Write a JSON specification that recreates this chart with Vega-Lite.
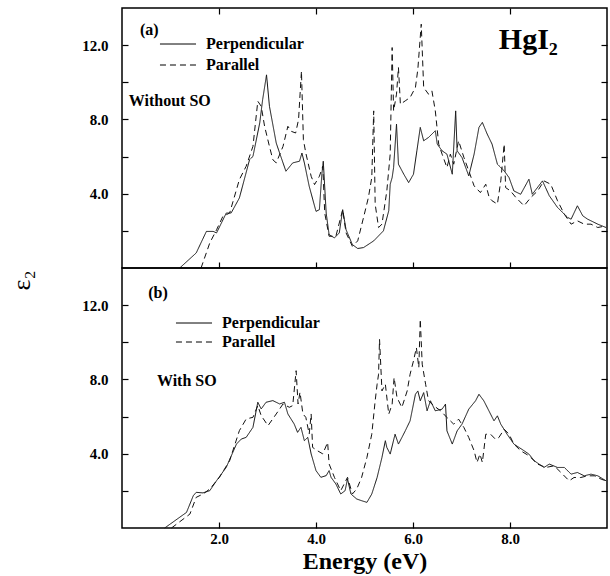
{
  "$schema": "https://vega.github.io/schema/vega-lite/v6.json",
  "padding": {"left": 7, "top": 6, "right": 4, "bottom": 0},
  "background": "white",
  "datasets": {
    "a": [
      {"E":1.19,"v":0,"s":"Perpendicular"},{"E":1.53,"v":0.81,"s":"Perpendicular"},{"E":1.74,"v":1.97,"s":"Perpendicular"},{"E":1.88,"v":1.97,"s":"Perpendicular"},{"E":1.95,"v":1.89,"s":"Perpendicular"},{"E":2.15,"v":2.96,"s":"Perpendicular"},{"E":2.25,"v":2.96,"s":"Perpendicular"},{"E":2.42,"v":3.77,"s":"Perpendicular"},{"E":2.63,"v":5.83,"s":"Perpendicular"},{"E":2.7,"v":6.01,"s":"Perpendicular"},{"E":2.84,"v":7.81,"s":"Perpendicular"},{"E":2.9,"v":9.07,"s":"Perpendicular"},{"E":2.98,"v":10.4,"s":"Perpendicular"},{"E":3.04,"v":8.71,"s":"Perpendicular"},{"E":3.18,"v":6.73,"s":"Perpendicular"},{"E":3.25,"v":6.19,"s":"Perpendicular"},{"E":3.38,"v":5.21,"s":"Perpendicular"},{"E":3.52,"v":5.66,"s":"Perpendicular"},{"E":3.66,"v":5.75,"s":"Perpendicular"},{"E":3.71,"v":6.19,"s":"Perpendicular"},{"E":3.76,"v":5.66,"s":"Perpendicular"},{"E":3.86,"v":4.4,"s":"Perpendicular"},{"E":4.0,"v":3.05,"s":"Perpendicular"},{"E":4.07,"v":3.14,"s":"Perpendicular"},{"E":4.12,"v":5.03,"s":"Perpendicular"},{"E":4.15,"v":5.75,"s":"Perpendicular"},{"E":4.21,"v":2.96,"s":"Perpendicular"},{"E":4.27,"v":1.8,"s":"Perpendicular"},{"E":4.38,"v":1.62,"s":"Perpendicular"},{"E":4.48,"v":1.89,"s":"Perpendicular"},{"E":4.55,"v":3.14,"s":"Perpendicular"},{"E":4.62,"v":2.06,"s":"Perpendicular"},{"E":4.75,"v":1.26,"s":"Perpendicular"},{"E":4.86,"v":1.05,"s":"Perpendicular"},{"E":4.98,"v":1.1,"s":"Perpendicular"},{"E":5.19,"v":1.46,"s":"Perpendicular"},{"E":5.39,"v":2.0,"s":"Perpendicular"},{"E":5.5,"v":3.08,"s":"Perpendicular"},{"E":5.53,"v":4.51,"s":"Perpendicular"},{"E":5.57,"v":4.87,"s":"Perpendicular"},{"E":5.6,"v":5.41,"s":"Perpendicular"},{"E":5.66,"v":7.75,"s":"Perpendicular"},{"E":5.7,"v":5.59,"s":"Perpendicular"},{"E":5.81,"v":5.05,"s":"Perpendicular"},{"E":5.91,"v":4.6,"s":"Perpendicular"},{"E":6.01,"v":5.05,"s":"Perpendicular"},{"E":6.08,"v":6.31,"s":"Perpendicular"},{"E":6.15,"v":7.57,"s":"Perpendicular"},{"E":6.22,"v":6.85,"s":"Perpendicular"},{"E":6.32,"v":7.03,"s":"Perpendicular"},{"E":6.46,"v":7.39,"s":"Perpendicular"},{"E":6.5,"v":6.67,"s":"Perpendicular"},{"E":6.6,"v":6.31,"s":"Perpendicular"},{"E":6.7,"v":6.13,"s":"Perpendicular"},{"E":6.81,"v":5.05,"s":"Perpendicular"},{"E":6.88,"v":8.46,"s":"Perpendicular"},{"E":6.91,"v":6.31,"s":"Perpendicular"},{"E":7.01,"v":5.95,"s":"Perpendicular"},{"E":7.15,"v":4.96,"s":"Perpendicular"},{"E":7.26,"v":6.13,"s":"Perpendicular"},{"E":7.36,"v":7.57,"s":"Perpendicular"},{"E":7.43,"v":7.84,"s":"Perpendicular"},{"E":7.53,"v":7.21,"s":"Perpendicular"},{"E":7.63,"v":6.67,"s":"Perpendicular"},{"E":7.74,"v":5.59,"s":"Perpendicular"},{"E":7.88,"v":5.23,"s":"Perpendicular"},{"E":7.98,"v":4.87,"s":"Perpendicular"},{"E":8.08,"v":4.15,"s":"Perpendicular"},{"E":8.22,"v":3.97,"s":"Perpendicular"},{"E":8.39,"v":4.78,"s":"Perpendicular"},{"E":8.46,"v":3.97,"s":"Perpendicular"},{"E":8.67,"v":4.69,"s":"Perpendicular"},{"E":8.81,"v":3.89,"s":"Perpendicular"},{"E":8.98,"v":3.26,"s":"Perpendicular"},{"E":9.19,"v":2.72,"s":"Perpendicular"},{"E":9.26,"v":2.63,"s":"Perpendicular"},{"E":9.39,"v":3.35,"s":"Perpendicular"},{"E":9.5,"v":2.81,"s":"Perpendicular"},{"E":9.6,"v":2.63,"s":"Perpendicular"},{"E":9.81,"v":2.36,"s":"Perpendicular"},{"E":9.98,"v":2.18,"s":"Perpendicular"},
      {"E":1.63,"v":0,"s":"Parallel"},{"E":1.81,"v":1.35,"s":"Parallel"},{"E":1.95,"v":2.06,"s":"Parallel"},{"E":2.08,"v":2.78,"s":"Parallel"},{"E":2.22,"v":2.96,"s":"Parallel"},{"E":2.42,"v":4.76,"s":"Parallel"},{"E":2.56,"v":5.48,"s":"Parallel"},{"E":2.7,"v":6.55,"s":"Parallel"},{"E":2.8,"v":8.98,"s":"Parallel"},{"E":2.87,"v":8.71,"s":"Parallel"},{"E":2.94,"v":7.63,"s":"Parallel"},{"E":3.04,"v":6.55,"s":"Parallel"},{"E":3.11,"v":5.83,"s":"Parallel"},{"E":3.18,"v":5.66,"s":"Parallel"},{"E":3.32,"v":6.55,"s":"Parallel"},{"E":3.42,"v":7.63,"s":"Parallel"},{"E":3.49,"v":7.36,"s":"Parallel"},{"E":3.58,"v":7.27,"s":"Parallel"},{"E":3.64,"v":7.99,"s":"Parallel"},{"E":3.7,"v":10.6,"s":"Parallel"},{"E":3.74,"v":6.91,"s":"Parallel"},{"E":3.79,"v":6.19,"s":"Parallel"},{"E":3.9,"v":4.94,"s":"Parallel"},{"E":3.97,"v":4.49,"s":"Parallel"},{"E":4.07,"v":4.94,"s":"Parallel"},{"E":4.14,"v":5.48,"s":"Parallel"},{"E":4.18,"v":2.96,"s":"Parallel"},{"E":4.27,"v":1.71,"s":"Parallel"},{"E":4.41,"v":1.71,"s":"Parallel"},{"E":4.55,"v":3.14,"s":"Parallel"},{"E":4.62,"v":1.89,"s":"Parallel"},{"E":4.75,"v":1.17,"s":"Parallel"},{"E":4.86,"v":1.46,"s":"Parallel"},{"E":4.98,"v":2.72,"s":"Parallel"},{"E":5.08,"v":3.79,"s":"Parallel"},{"E":5.15,"v":4.87,"s":"Parallel"},{"E":5.19,"v":8.46,"s":"Parallel"},{"E":5.22,"v":3.44,"s":"Parallel"},{"E":5.29,"v":2.18,"s":"Parallel"},{"E":5.36,"v":2.36,"s":"Parallel"},{"E":5.46,"v":4.15,"s":"Parallel"},{"E":5.53,"v":6.13,"s":"Parallel"},{"E":5.57,"v":11.87,"s":"Parallel"},{"E":5.6,"v":8.46,"s":"Parallel"},{"E":5.66,"v":9.36,"s":"Parallel"},{"E":5.7,"v":10.8,"s":"Parallel"},{"E":5.74,"v":8.82,"s":"Parallel"},{"E":5.84,"v":9.0,"s":"Parallel"},{"E":5.94,"v":9.18,"s":"Parallel"},{"E":6.05,"v":9.72,"s":"Parallel"},{"E":6.1,"v":10.71,"s":"Parallel"},{"E":6.17,"v":13.13,"s":"Parallel"},{"E":6.22,"v":9.72,"s":"Parallel"},{"E":6.32,"v":9.36,"s":"Parallel"},{"E":6.39,"v":9.54,"s":"Parallel"},{"E":6.46,"v":8.46,"s":"Parallel"},{"E":6.53,"v":6.67,"s":"Parallel"},{"E":6.6,"v":6.13,"s":"Parallel"},{"E":6.7,"v":5.41,"s":"Parallel"},{"E":6.77,"v":6.13,"s":"Parallel"},{"E":6.84,"v":5.59,"s":"Parallel"},{"E":6.94,"v":6.85,"s":"Parallel"},{"E":7.05,"v":5.95,"s":"Parallel"},{"E":7.15,"v":5.23,"s":"Parallel"},{"E":7.26,"v":4.42,"s":"Parallel"},{"E":7.39,"v":4.06,"s":"Parallel"},{"E":7.5,"v":4.51,"s":"Parallel"},{"E":7.57,"v":3.8,"s":"Parallel"},{"E":7.63,"v":3.62,"s":"Parallel"},{"E":7.74,"v":3.44,"s":"Parallel"},{"E":7.81,"v":4.69,"s":"Parallel"},{"E":7.88,"v":6.67,"s":"Parallel"},{"E":7.91,"v":4.33,"s":"Parallel"},{"E":8.01,"v":4.15,"s":"Parallel"},{"E":8.12,"v":3.8,"s":"Parallel"},{"E":8.29,"v":3.35,"s":"Parallel"},{"E":8.43,"v":3.8,"s":"Parallel"},{"E":8.57,"v":4.15,"s":"Parallel"},{"E":8.7,"v":4.69,"s":"Parallel"},{"E":8.84,"v":4.51,"s":"Parallel"},{"E":8.98,"v":3.62,"s":"Parallel"},{"E":9.12,"v":2.9,"s":"Parallel"},{"E":9.26,"v":2.36,"s":"Parallel"},{"E":9.39,"v":2.54,"s":"Parallel"},{"E":9.53,"v":2.36,"s":"Parallel"},{"E":9.67,"v":2.36,"s":"Parallel"},{"E":9.81,"v":2.18,"s":"Parallel"},{"E":9.98,"v":2.27,"s":"Parallel"}
    ],
    "b": [
      {"E":0.88,"v":0,"s":"Perpendicular"},{"E":1.33,"v":0.84,"s":"Perpendicular"},{"E":1.47,"v":1.74,"s":"Perpendicular"},{"E":1.53,"v":1.92,"s":"Perpendicular"},{"E":1.67,"v":1.89,"s":"Perpendicular"},{"E":1.81,"v":2.01,"s":"Perpendicular"},{"E":1.95,"v":2.55,"s":"Perpendicular"},{"E":2.15,"v":3.27,"s":"Perpendicular"},{"E":2.36,"v":4.52,"s":"Perpendicular"},{"E":2.46,"v":4.79,"s":"Perpendicular"},{"E":2.56,"v":4.88,"s":"Perpendicular"},{"E":2.7,"v":5.42,"s":"Perpendicular"},{"E":2.8,"v":6.77,"s":"Perpendicular"},{"E":2.87,"v":6.41,"s":"Perpendicular"},{"E":2.97,"v":6.77,"s":"Perpendicular"},{"E":3.11,"v":6.86,"s":"Perpendicular"},{"E":3.25,"v":6.68,"s":"Perpendicular"},{"E":3.35,"v":6.77,"s":"Perpendicular"},{"E":3.42,"v":6.14,"s":"Perpendicular"},{"E":3.55,"v":5.6,"s":"Perpendicular"},{"E":3.62,"v":5.15,"s":"Perpendicular"},{"E":3.69,"v":5.42,"s":"Perpendicular"},{"E":3.76,"v":4.7,"s":"Perpendicular"},{"E":3.83,"v":4.88,"s":"Perpendicular"},{"E":3.9,"v":3.99,"s":"Perpendicular"},{"E":4.0,"v":3.09,"s":"Perpendicular"},{"E":4.1,"v":2.73,"s":"Perpendicular"},{"E":4.21,"v":2.82,"s":"Perpendicular"},{"E":4.27,"v":3.09,"s":"Perpendicular"},{"E":4.31,"v":2.73,"s":"Perpendicular"},{"E":4.41,"v":2.37,"s":"Perpendicular"},{"E":4.51,"v":1.83,"s":"Perpendicular"},{"E":4.6,"v":2.01,"s":"Perpendicular"},{"E":4.65,"v":2.64,"s":"Perpendicular"},{"E":4.72,"v":1.83,"s":"Perpendicular"},{"E":4.84,"v":1.56,"s":"Perpendicular"},{"E":4.94,"v":1.47,"s":"Perpendicular"},{"E":5.05,"v":1.38,"s":"Perpendicular"},{"E":5.15,"v":1.83,"s":"Perpendicular"},{"E":5.26,"v":2.72,"s":"Perpendicular"},{"E":5.36,"v":3.8,"s":"Perpendicular"},{"E":5.43,"v":4.7,"s":"Perpendicular"},{"E":5.46,"v":4.34,"s":"Perpendicular"},{"E":5.53,"v":3.98,"s":"Perpendicular"},{"E":5.63,"v":5.05,"s":"Perpendicular"},{"E":5.7,"v":4.52,"s":"Perpendicular"},{"E":5.77,"v":4.87,"s":"Perpendicular"},{"E":5.84,"v":5.23,"s":"Perpendicular"},{"E":5.94,"v":5.77,"s":"Perpendicular"},{"E":6.05,"v":7.2,"s":"Perpendicular"},{"E":6.1,"v":7.38,"s":"Perpendicular"},{"E":6.15,"v":6.85,"s":"Perpendicular"},{"E":6.22,"v":7.29,"s":"Perpendicular"},{"E":6.29,"v":6.31,"s":"Perpendicular"},{"E":6.36,"v":6.85,"s":"Perpendicular"},{"E":6.46,"v":6.31,"s":"Perpendicular"},{"E":6.6,"v":6.4,"s":"Perpendicular"},{"E":6.67,"v":6.67,"s":"Perpendicular"},{"E":6.7,"v":5.23,"s":"Perpendicular"},{"E":6.81,"v":4.52,"s":"Perpendicular"},{"E":6.91,"v":5.23,"s":"Perpendicular"},{"E":7.01,"v":5.59,"s":"Perpendicular"},{"E":7.15,"v":6.4,"s":"Perpendicular"},{"E":7.29,"v":6.85,"s":"Perpendicular"},{"E":7.36,"v":7.2,"s":"Perpendicular"},{"E":7.46,"v":6.85,"s":"Perpendicular"},{"E":7.6,"v":6.13,"s":"Perpendicular"},{"E":7.67,"v":5.77,"s":"Perpendicular"},{"E":7.74,"v":6.04,"s":"Perpendicular"},{"E":7.81,"v":5.59,"s":"Perpendicular"},{"E":7.94,"v":5.05,"s":"Perpendicular"},{"E":8.08,"v":4.52,"s":"Perpendicular"},{"E":8.29,"v":4.16,"s":"Perpendicular"},{"E":8.39,"v":3.98,"s":"Perpendicular"},{"E":8.5,"v":3.62,"s":"Perpendicular"},{"E":8.7,"v":3.26,"s":"Perpendicular"},{"E":8.81,"v":3.44,"s":"Perpendicular"},{"E":8.98,"v":3.26,"s":"Perpendicular"},{"E":9.12,"v":3.26,"s":"Perpendicular"},{"E":9.26,"v":2.9,"s":"Perpendicular"},{"E":9.39,"v":2.99,"s":"Perpendicular"},{"E":9.53,"v":2.81,"s":"Perpendicular"},{"E":9.67,"v":2.9,"s":"Perpendicular"},{"E":9.81,"v":2.81,"s":"Perpendicular"},{"E":9.98,"v":2.54,"s":"Perpendicular"},
      {"E":1.02,"v":0,"s":"Parallel"},{"E":1.4,"v":0.75,"s":"Parallel"},{"E":1.53,"v":1.65,"s":"Parallel"},{"E":1.67,"v":1.83,"s":"Parallel"},{"E":1.81,"v":2.1,"s":"Parallel"},{"E":2.01,"v":2.73,"s":"Parallel"},{"E":2.22,"v":3.63,"s":"Parallel"},{"E":2.42,"v":5.24,"s":"Parallel"},{"E":2.56,"v":5.87,"s":"Parallel"},{"E":2.7,"v":5.96,"s":"Parallel"},{"E":2.8,"v":6.59,"s":"Parallel"},{"E":2.87,"v":6.05,"s":"Parallel"},{"E":3.01,"v":5.51,"s":"Parallel"},{"E":3.18,"v":6.14,"s":"Parallel"},{"E":3.32,"v":6.68,"s":"Parallel"},{"E":3.45,"v":6.5,"s":"Parallel"},{"E":3.52,"v":6.59,"s":"Parallel"},{"E":3.59,"v":8.47,"s":"Parallel"},{"E":3.63,"v":6.68,"s":"Parallel"},{"E":3.67,"v":7.31,"s":"Parallel"},{"E":3.73,"v":6.14,"s":"Parallel"},{"E":3.79,"v":5.96,"s":"Parallel"},{"E":3.86,"v":5.06,"s":"Parallel"},{"E":3.9,"v":6.14,"s":"Parallel"},{"E":3.93,"v":4.34,"s":"Parallel"},{"E":4.03,"v":4.16,"s":"Parallel"},{"E":4.14,"v":3.99,"s":"Parallel"},{"E":4.24,"v":4.61,"s":"Parallel"},{"E":4.27,"v":3.45,"s":"Parallel"},{"E":4.38,"v":2.73,"s":"Parallel"},{"E":4.51,"v":2.01,"s":"Parallel"},{"E":4.65,"v":2.73,"s":"Parallel"},{"E":4.75,"v":1.83,"s":"Parallel"},{"E":4.84,"v":2.1,"s":"Parallel"},{"E":4.94,"v":2.72,"s":"Parallel"},{"E":5.05,"v":3.8,"s":"Parallel"},{"E":5.15,"v":5.05,"s":"Parallel"},{"E":5.22,"v":6.85,"s":"Parallel"},{"E":5.26,"v":7.74,"s":"Parallel"},{"E":5.29,"v":8.28,"s":"Parallel"},{"E":5.31,"v":10.16,"s":"Parallel"},{"E":5.36,"v":7.38,"s":"Parallel"},{"E":5.43,"v":7.74,"s":"Parallel"},{"E":5.5,"v":6.13,"s":"Parallel"},{"E":5.57,"v":6.67,"s":"Parallel"},{"E":5.61,"v":8.1,"s":"Parallel"},{"E":5.67,"v":7.03,"s":"Parallel"},{"E":5.77,"v":6.49,"s":"Parallel"},{"E":5.88,"v":7.38,"s":"Parallel"},{"E":5.94,"v":8.28,"s":"Parallel"},{"E":6.01,"v":9.0,"s":"Parallel"},{"E":6.07,"v":9.71,"s":"Parallel"},{"E":6.12,"v":8.64,"s":"Parallel"},{"E":6.15,"v":11.24,"s":"Parallel"},{"E":6.19,"v":8.82,"s":"Parallel"},{"E":6.26,"v":7.74,"s":"Parallel"},{"E":6.32,"v":6.85,"s":"Parallel"},{"E":6.43,"v":6.58,"s":"Parallel"},{"E":6.57,"v":6.31,"s":"Parallel"},{"E":6.7,"v":5.95,"s":"Parallel"},{"E":6.84,"v":5.59,"s":"Parallel"},{"E":6.94,"v":5.86,"s":"Parallel"},{"E":7.05,"v":5.41,"s":"Parallel"},{"E":7.15,"v":4.87,"s":"Parallel"},{"E":7.26,"v":4.16,"s":"Parallel"},{"E":7.32,"v":3.53,"s":"Parallel"},{"E":7.38,"v":3.98,"s":"Parallel"},{"E":7.43,"v":3.53,"s":"Parallel"},{"E":7.5,"v":5.05,"s":"Parallel"},{"E":7.6,"v":5.05,"s":"Parallel"},{"E":7.7,"v":4.78,"s":"Parallel"},{"E":7.77,"v":4.87,"s":"Parallel"},{"E":7.88,"v":5.32,"s":"Parallel"},{"E":7.98,"v":5.05,"s":"Parallel"},{"E":8.08,"v":4.52,"s":"Parallel"},{"E":8.22,"v":4.16,"s":"Parallel"},{"E":8.39,"v":3.89,"s":"Parallel"},{"E":8.57,"v":3.44,"s":"Parallel"},{"E":8.74,"v":3.26,"s":"Parallel"},{"E":8.91,"v":3.35,"s":"Parallel"},{"E":9.05,"v":2.99,"s":"Parallel"},{"E":9.22,"v":2.54,"s":"Parallel"},{"E":9.32,"v":2.72,"s":"Parallel"},{"E":9.46,"v":2.72,"s":"Parallel"},{"E":9.6,"v":2.81,"s":"Parallel"},{"E":9.74,"v":2.81,"s":"Parallel"},{"E":9.88,"v":2.63,"s":"Parallel"},{"E":9.98,"v":2.54,"s":"Parallel"}
    ],
    "aText": [{"x":0.37,"y":12.8,"t":"(a)"},{"x":0.14,"y":9.01,"t":"Without SO"}],
    "aTitle": [{"x":7.77,"y":11.81,"t":"HgI₂"}],
    "bText": [{"x":0.54,"y":12.68,"t":"(b)"},{"x":0.72,"y":7.92,"t":"With SO"}]
  },
  "vconcat": [
    {
      "width": 485,
      "height": 260,
      "layer": [
        {
          "layer": [
            {
              "data": {"name": "a"},
              "mark": {"type": "line", "stroke": "#111", "strokeWidth": 1},
              "encoding": {
                "x": {"field": "E", "type": "quantitative", "scale": {"domain": [0, 10], "nice": false},
                      "axis": {"orient": "bottom", "values": [2, 4, 6, 8], "labels": false, "title": null}},
                "y": {"field": "v", "type": "quantitative", "scale": {"domain": [0, 14], "nice": false},
                      "axis": {"orient": "left", "values": [2, 4, 6, 8, 10, 12], "labelPadding": 20, "labelExpr": "datum.value % 4 === 0 ? format(datum.value, '.1f') : ''", "title": null}},
                "strokeDash": {"field": "s", "type": "nominal",
                      "scale": {"domain": ["Perpendicular", "Parallel"], "range": [[1, 0], [6, 4]]},
                      "legend": {"title": null, "orient": "none", "legendX": 37, "legendY": 28, "clipHeight": 16, "rowPadding": 5}}
              }
            },
            {
              "data": {"name": "aTitle"},
              "mark": {"type": "text", "font": "Liberation Serif", "fontWeight": "bold", "fontSize": 30, "align": "left", "baseline": "alphabetic", "color": "black"},
              "encoding": {
                "x": {"field": "x", "type": "quantitative"},
                "y": {"field": "y", "type": "quantitative"},
                "text": {"field": "t"}
              }
            }
          ]
        },
        {
          "data": {"name": "aText"},
          "mark": {"type": "text", "font": "Liberation Serif", "fontWeight": "bold", "fontSize": 16, "align": "left", "baseline": "middle", "color": "black"},
          "encoding": {
            "x": {"field": "x", "type": "quantitative", "scale": {"domain": [0, 10], "nice": false},
                  "axis": {"orient": "top", "values": [2, 4, 6, 8], "labels": false, "title": null}},
            "y": {"field": "y", "type": "quantitative", "scale": {"domain": [0, 14], "nice": false},
                  "axis": {"orient": "right", "values": [2, 4, 6, 8, 10, 12], "labels": false, "title": null}},
            "text": {"field": "t"}
          }
        }
      ],
      "resolve": {"scale": {"x": "independent", "y": "independent"}}
    },
    {
      "width": 485,
      "height": 260,
      "layer": [
        {
          "data": {"name": "b"},
          "mark": {"type": "line", "stroke": "#111", "strokeWidth": 1},
          "encoding": {
            "x": {"field": "E", "type": "quantitative", "scale": {"domain": [0, 10], "nice": false},
                  "axis": {"orient": "bottom", "values": [2, 4, 6, 8], "format": ".1f", "labelPadding": 9, "title": "Energy (eV)", "titleFontSize": 24, "titlePadding": 3}},
            "y": {"field": "v", "type": "quantitative", "scale": {"domain": [0, 14], "nice": false},
                  "axis": {"orient": "left", "values": [2, 4, 6, 8, 10, 12], "labelPadding": 20, "labelExpr": "datum.value % 4 === 0 ? format(datum.value, '.1f') : ''",
                           "title": "ε₂", "titleX": -101, "titleY": 12, "titleAngle": -90, "titleAlign": "center", "titleBaseline": "middle", "titleFontWeight": "normal", "titleFontSize": 26}},
            "strokeDash": {"field": "s", "type": "nominal",
                  "scale": {"domain": ["Perpendicular", "Parallel"], "range": [[1, 0], [6, 4]]},
                  "legend": {"title": null, "orient": "none", "legendX": 53, "legendY": 47, "clipHeight": 16, "rowPadding": 3}}
          }
        },
        {
          "data": {"name": "bText"},
          "mark": {"type": "text", "font": "Liberation Serif", "fontWeight": "bold", "fontSize": 16, "align": "left", "baseline": "middle", "color": "black"},
          "encoding": {
            "x": {"field": "x", "type": "quantitative", "scale": {"domain": [0, 10], "nice": false},
                  "axis": {"orient": "top", "values": [2, 4, 6, 8], "labels": false, "title": null, "ticks": false}},
            "y": {"field": "y", "type": "quantitative", "scale": {"domain": [0, 14], "nice": false},
                  "axis": {"orient": "right", "values": [2, 4, 6, 8, 10, 12], "labels": false, "title": null}},
            "text": {"field": "t"}
          }
        }
      ],
      "resolve": {"scale": {"x": "independent", "y": "independent"}}
    }
  ],
  "spacing": 0,
  "bounds": "flush",
  "resolve": {"scale": {"strokeDash": "independent"}, "legend": {"strokeDash": "independent"}},
  "config": {
    "view": {"stroke": "black", "strokeWidth": 1.5},
    "axis": {
      "domain": false, "grid": false, "tickColor": "black", "tickWidth": 1.2, "tickSize": -6,
      "labelFont": "Liberation Serif", "labelFontWeight": "bold", "labelFontSize": 15, "labelColor": "black", "labelPadding": 14,
      "titleFont": "Liberation Serif", "titleFontWeight": "bold", "titleColor": "black"
    },
    "legend": {
      "symbolType": "stroke", "symbolSize": 1300, "symbolStrokeWidth": 1, "symbolStrokeColor": "black",
      "labelFont": "Liberation Serif", "labelFontWeight": "bold", "labelFontSize": 16, "labelColor": "black",
      "labelOffset": 9
    }
  }
}
